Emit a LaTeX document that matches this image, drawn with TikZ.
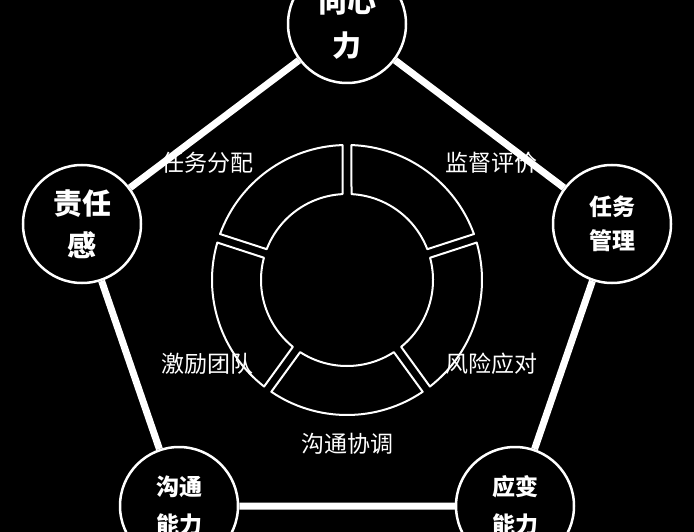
\documentclass[tikz,border=0pt]{standalone}
\usepackage{fontspec}
\newfontfamily\cjk{Noto Sans CJK SC}
\begin{document}
\begin{tikzpicture}[x=1pt, y=1pt,
  vertex/.style = {draw=white, fill=black, circle, line width=2.5pt, minimum size=118pt, inner sep=0pt, text=white, align=center, font=\cjk\bfseries},
  side/.style = {draw=white, line width=7pt},
  seg/.style = {draw=white, fill=black, line width=2pt, line join=round},
  lbl/.style = {text=white, font=\cjk\fontsize{23}{26}\selectfont}]
  \fill[black] (0,0) rectangle (694,-532);
  \useasboundingbox (0,0) rectangle (694,-532);
  % outer pentagon
  \node[vertex, font=\cjk\bfseries\fontsize{29}{44}\selectfont] (top) at (347,-24) {向心\\力};
  \node[vertex, font=\cjk\bfseries\fontsize{29}{42}\selectfont] (left) at (82,-224) {责任\\感};
  \node[vertex, font=\cjk\bfseries\fontsize{23}{34}\selectfont] (right) at (612,-224) {任务\\管理};
  \node[vertex, font=\cjk\bfseries\fontsize{23}{38}\selectfont] (botleft) at (179,-506) {沟通\\能力};
  \node[vertex, font=\cjk\bfseries\fontsize{23}{38}\selectfont] (botright) at (515,-506) {应变\\能力};
  \draw[side] (top) -- (right) (right) -- (botright) (botright) -- (botleft)
    (botleft) -- (left) (left) -- (top);
  % inner ring
  \coordinate (c) at (347,-280);
  \foreach \a in {90,162,234,306,378}
    \draw[seg] ([shift={(c)}]\a+1.9:135pt) arc[start angle=\a+1.9, end angle=\a+70.1, radius=135pt]
      -- ([shift={(c)}]\a+69:86pt) arc[start angle=\a+69, end angle=\a+3, radius=86pt] -- cycle;
  \node[lbl] (assign) at (207,-163) {任务分配};
  \node[lbl] (monitor) at (491,-163) {监督评价};
  \node[lbl] (motivate) at (207,-364) {激励团队};
  \node[lbl] (risk) at (491,-364) {风险应对};
  \node[lbl] (comm) at (347,-444) {沟通协调};
\end{tikzpicture}
\end{document}
